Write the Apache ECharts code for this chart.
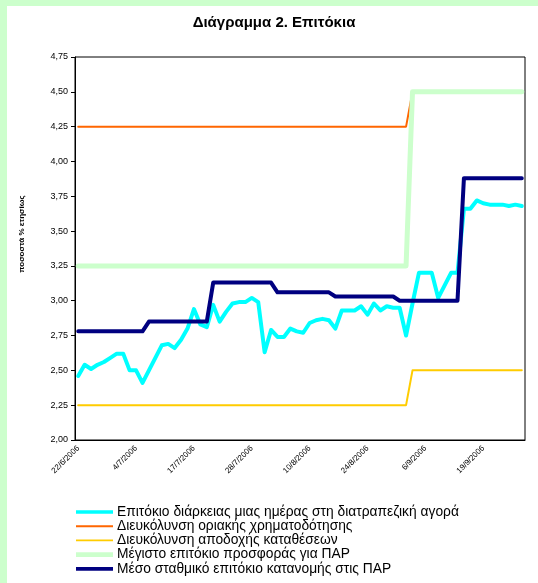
<!DOCTYPE html>
<html>
<head>
<meta charset="utf-8">
<script src="https://cdn.jsdelivr.net/npm/echarts@6/dist/echarts.min.js"></script>
<style>
  html, body { margin: 0; padding: 0; background: #ccffcc; }
  #wrap { position: absolute; left: 0; top: 0; width: 538px; height: 583px; background: #ccffcc; }
  #chart { position: absolute; left: 7px; top: 6px; width: 531px; height: 577px; background: #ffffff; }
</style>
</head>
<body>
<div id="wrap"><div id="chart"></div></div>
<script>
// Trading days, summer 2006
const dates = [
  "22/6/2006","23/6/2006","26/6/2006","27/6/2006","28/6/2006","29/6/2006","30/6/2006","3/7/2006","1/7/2006",
  "4/7/2006","5/7/2006","6/7/2006","7/7/2006","10/7/2006","11/7/2006","12/7/2006","13/7/2006","14/7/2006",
  "17/7/2006","18/7/2006","19/7/2006","20/7/2006","21/7/2006","24/7/2006","25/7/2006","26/7/2006","27/7/2006",
  "28/7/2006","31/7/2006","1/8/2006","2/8/2006","3/8/2006","4/8/2006","7/8/2006","8/8/2006","9/8/2006",
  "10/8/2006","11/8/2006","14/8/2006","16/8/2006","17/8/2006","18/8/2006","21/8/2006","22/8/2006","23/8/2006",
  "24/8/2006","25/8/2006","28/8/2006","29/8/2006","30/8/2006","31/8/2006","1/9/2006","4/9/2006","5/9/2006",
  "6/9/2006","7/9/2006","8/9/2006","11/9/2006","12/9/2006","13/9/2006","14/9/2006","15/9/2006","18/9/2006",
  "19/9/2006","20/9/2006","21/9/2006","22/9/2006","25/9/2006","26/9/2006","27/9/2006"
];

// Overnight interbank rate
const overnight = [
  2.46,2.54,2.51,2.54,2.56,2.59,2.62,2.62,2.50,
  2.50,2.41,2.50,2.59,2.68,2.69,2.66,2.72,2.80,
  2.94,2.83,2.81,2.97,2.85,2.92,2.98,2.99,2.99,
  3.02,2.99,2.63,2.79,2.74,2.74,2.80,2.78,2.77,
  2.84,2.86,2.87,2.86,2.80,2.93,2.93,2.93,2.96,
  2.90,2.98,2.93,2.96,2.95,2.95,2.75,2.98,3.20,
  3.20,3.20,3.02,3.11,3.20,3.20,3.66,3.66,3.72,
  3.70,3.69,3.69,3.69,3.68,3.69,3.68
];

// Marginal lending facility
const marginalLending = [
  4.25,4.25,4.25,4.25,4.25,4.25,4.25,4.25,4.25,
  4.25,4.25,4.25,4.25,4.25,4.25,4.25,4.25,4.25,
  4.25,4.25,4.25,4.25,4.25,4.25,4.25,4.25,4.25,
  4.25,4.25,4.25,4.25,4.25,4.25,4.25,4.25,4.25,
  4.25,4.25,4.25,4.25,4.25,4.25,4.25,4.25,4.25,
  4.25,4.25,4.25,4.25,4.25,4.25,4.25,4.50,4.50,
  4.50,4.50,4.50,4.50,4.50,4.50,4.50,4.50,4.50,
  4.50,4.50,4.50,4.50,4.50,4.50,4.50
];

// Deposit facility
const depositFacility = [
  2.25,2.25,2.25,2.25,2.25,2.25,2.25,2.25,2.25,
  2.25,2.25,2.25,2.25,2.25,2.25,2.25,2.25,2.25,
  2.25,2.25,2.25,2.25,2.25,2.25,2.25,2.25,2.25,
  2.25,2.25,2.25,2.25,2.25,2.25,2.25,2.25,2.25,
  2.25,2.25,2.25,2.25,2.25,2.25,2.25,2.25,2.25,
  2.25,2.25,2.25,2.25,2.25,2.25,2.25,2.50,2.50,
  2.50,2.50,2.50,2.50,2.50,2.50,2.50,2.50,2.50,
  2.50,2.50,2.50,2.50,2.50,2.50,2.50
];

// Maximum bid rate for repos
const maxBidRate = [
  3.25,3.25,3.25,3.25,3.25,3.25,3.25,3.25,3.25,
  3.25,3.25,3.25,3.25,3.25,3.25,3.25,3.25,3.25,
  3.25,3.25,3.25,3.25,3.25,3.25,3.25,3.25,3.25,
  3.25,3.25,3.25,3.25,3.25,3.25,3.25,3.25,3.25,
  3.25,3.25,3.25,3.25,3.25,3.25,3.25,3.25,3.25,
  3.25,3.25,3.25,3.25,3.25,3.25,3.25,4.50,4.50,
  4.50,4.50,4.50,4.50,4.50,4.50,4.50,4.50,4.50,
  4.50,4.50,4.50,4.50,4.50,4.50,4.50
];

// Weighted average allotment rate for repos
const weightedAvgRate = [
  2.78,2.78,2.78,2.78,2.78,2.78,2.78,2.78,2.78,
  2.78,2.78,2.85,2.85,2.85,2.85,2.85,2.85,2.85,
  2.85,2.85,2.85,3.13,3.13,3.13,3.13,3.13,3.13,
  3.13,3.13,3.13,3.13,3.06,3.06,3.06,3.06,3.06,
  3.06,3.06,3.06,3.06,3.03,3.03,3.03,3.03,3.03,
  3.03,3.03,3.03,3.03,3.03,3.00,3.00,3.00,3.00,
  3.00,3.00,3.00,3.00,3.00,3.00,3.88,3.88,3.88,
  3.88,3.88,3.88,3.88,3.88,3.88,3.88
];

const seriesNames = [
  "Επιτόκιο διάρκειας μιας ημέρας στη διατραπεζική αγορά",
  "Διευκόλυνση οριακής χρηματοδότησης",
  "Διευκόλυνση αποδοχής καταθέσεων",
  "Μέγιστο επιτόκιο προσφοράς για ΠΑΡ",
  "Μέσο σταθμικό επιτόκιο κατανομής στις ΠΑΡ"
];
const seriesData = [overnight, marginalLending, depositFacility, maxBidRate, weightedAvgRate];
const seriesColors = ["#00ffff", "#ff6600", "#ffcc00", "#ccffcc", "#000080"];
const seriesWidths = [4, 2, 2, 5, 4];

const yTicks = { min: 2, max: 4.75, step: 0.25 };
const FONT = "'Liberation Sans', Arial, sans-serif";

// Legend swatch: a horizontal stripe of given thickness inside a fixed box
function stripe(th) {
  const h = 12, top = (h - th) / 2;
  return "path://M0,0L0,0M40," + h + "L40," + h +
         "M0," + top + "H40V" + (top + th) + "H0Z";
}

const chart = echarts.init(document.getElementById("chart"), null, { renderer: "canvas" });

chart.setOption({
  animation: false,
  backgroundColor: "#ffffff",
  title: {
    text: "Διάγραμμα 2. Επιτόκια",
    left: 262, top: 4, textAlign: "center",
    textStyle: { fontFamily: FONT, fontSize: 15, fontWeight: "bold", color: "#000" }
  },
  grid: {
    left: 68, top: 51, width: 450, height: 383,
    show: true, borderColor: "#000", borderWidth: 1, backgroundColor: "transparent"
  },
  legend: {
    orient: "vertical", left: 64, top: 494, height: 80,
    itemWidth: 37, itemHeight: 12, itemGap: 0.2,
    textStyle: { fontFamily: FONT, fontSize: 13.8, color: "#000", padding: [0, 0, 0, -1] },
    data: seriesNames.map((n, i) => ({ name: n, icon: stripe(seriesWidths[i]) }))
  },
  graphic: [{
    type: "text", x: 15, y: 228, rotation: Math.PI / 2,
    style: {
      text: "ποσοστά % ετησίως", fontFamily: FONT, fontSize: 8, fontWeight: "bold",
      fill: "#000", align: "center", verticalAlign: "middle"
    }
  }],
  xAxis: {
    type: "category", data: dates, boundaryGap: true,
    axisLine: { lineStyle: { color: "#000", width: 1 } },
    axisTick: { interval: 8, length: 4, lineStyle: { color: "#000" } },
    axisLabel: {
      interval: 8, rotate: 45, fontFamily: FONT, fontSize: 8, color: "#000", margin: 7
    },
    splitLine: { show: false }
  },
  yAxis: {
    type: "value", min: yTicks.min, max: yTicks.max, interval: yTicks.step,
    axisLine: { show: true, lineStyle: { color: "#000", width: 1 } },
    axisTick: { show: true, length: 4, lineStyle: { color: "#000" } },
    axisLabel: {
      fontFamily: FONT, fontSize: 9, color: "#000", margin: 7,
      formatter: v => v.toFixed(2).replace(".", ",")
    },
    splitLine: { show: false }
  },
  series: seriesNames.map((n, i) => ({
    name: n, type: "line", data: seriesData[i],
    showSymbol: false, symbol: "none",
    color: seriesColors[i],
    lineStyle: { color: seriesColors[i], width: seriesWidths[i], cap: "round", join: "round" },
    emphasis: { disabled: true }
  }))
});
</script>
</body>
</html>
